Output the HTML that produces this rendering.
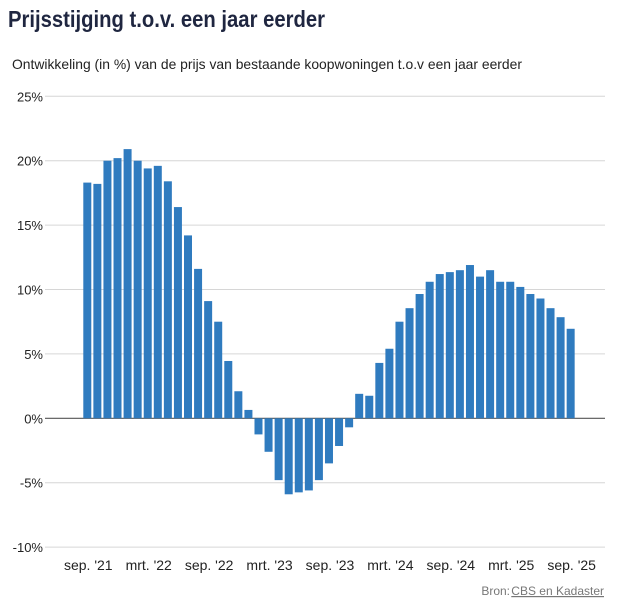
<!DOCTYPE html>
<html><head><meta charset="utf-8"><style>
html,body{margin:0;padding:0;background:#fff;}
svg{display:block;font-family:"Liberation Sans",Arial,sans-serif;}
</style></head><body>
<svg id="chart" width="620" height="604" viewBox="0 0 620 604">
<text x="8" y="27" font-size="23" font-weight="bold" fill="#1f2640" textLength="317" lengthAdjust="spacingAndGlyphs">Prijsstijging t.o.v. een jaar eerder</text>
<text x="12" y="69" font-size="14" fill="#222" textLength="510" lengthAdjust="spacingAndGlyphs">Ontwikkeling (in %) van de prijs van bestaande koopwoningen t.o.v een jaar eerder</text>
<g id="grid"></g><g id="bars"></g><g id="xlabels"></g>
<text x="510" y="595" font-size="12" fill="#777" text-anchor="end">Bron:</text>
<a><text x="604" y="595" font-size="12" fill="#777" text-anchor="end" text-decoration="underline">CBS en Kadaster</text></a>
</svg>
<script>
const values = [18.3,18.2,20.0,20.2,20.9,20.0,19.4,19.6,18.4,16.4,14.2,11.6,9.1,7.5,4.45,2.1,0.65,-1.25,-2.6,-4.8,-5.9,-5.75,-5.6,-4.8,-3.5,-2.15,-0.7,1.9,1.75,4.3,5.4,7.5,8.55,9.65,10.6,11.2,11.35,11.5,11.9,11.0,11.5,10.6,10.6,10.2,9.65,9.3,8.55,7.85,6.95];
const yTicks = [25,20,15,10,5,0,-5,-10];
const xTickLabels = ["sep. '21","mrt. '22","sep. '22","mrt. '23","sep. '23","mrt. '24","sep. '24","mrt. '25","sep. '25"];
const xTickIndex = [0,6,12,18,24,30,36,42,48];

const NS="http://www.w3.org/2000/svg";
const y0=418.3, pxPer=12.88;
function yScale(v){return y0 - v*pxPer;}
const x0=83.3, pitch=10.07, bw=8;
function xScale(i){return x0 + i*pitch;}
const grid=document.getElementById('grid');
yTicks.forEach(t=>{
  const y=yScale(t);
  const l=document.createElementNS(NS,'line');
  
  
  l.setAttribute('x1',45);l.setAttribute('x2',605);
  l.setAttribute('y1',y);l.setAttribute('y2',y);
  l.setAttribute('stroke',t===0?'#555':'#d6d6d6');
  l.setAttribute('stroke-width',t===0?1.2:1);
  grid.appendChild(l);
  const tx=document.createElementNS(NS,'text');
  
  
  tx.setAttribute('x',43);tx.setAttribute('y',y+5);
  tx.setAttribute('text-anchor','end');tx.setAttribute('font-size','13');tx.setAttribute('fill','#222');
  tx.textContent=t+'%';
  grid.appendChild(tx);
});
const bars=document.getElementById('bars');
values.forEach((v,i)=>{
  const r=document.createElementNS(NS,'rect');
  
  
  const y=yScale(Math.max(v,0)), h=Math.abs(yScale(v)-y0);
  r.setAttribute('x',xScale(i));r.setAttribute('width',bw);
  r.setAttribute('y',y);r.setAttribute('height',h);
  r.setAttribute('fill','#2f7bbf');
  bars.appendChild(r);
});
const xl=document.getElementById('xlabels');
xTickLabels.forEach((s,k)=>{
  const tx=document.createElementNS(NS,'text');
  
  
  tx.setAttribute('x',xScale(xTickIndex[k])+bw/2+1);tx.setAttribute('y',570);
  tx.setAttribute('text-anchor','middle');tx.setAttribute('font-size','14');tx.setAttribute('fill','#222');
  tx.textContent=s;
  xl.appendChild(tx);
});
</script>
</body></html>
